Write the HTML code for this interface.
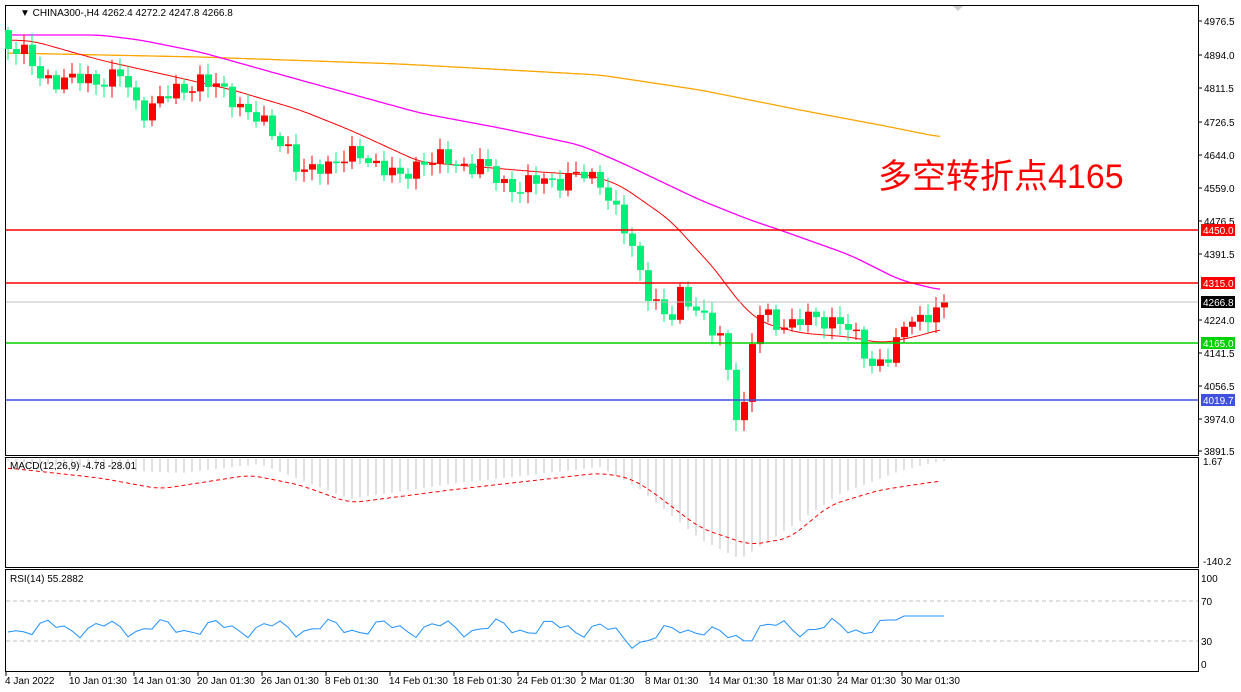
<!DOCTYPE html>
<html><head><meta charset="utf-8"><style>
html,body{margin:0;padding:0;background:#fff;width:1241px;height:692px;overflow:hidden}
svg{display:block;font-family:"Liberation Sans","Noto Sans CJK SC",sans-serif}
</style></head><body>
<svg id="s" width="1241" height="692" xmlns="http://www.w3.org/2000/svg"></svg>
<script>
const s=document.getElementById('s');let h='';
function interp(pts,x){if(x<=pts[0][0])return pts[0][1];for(let i=1;i<pts.length;i++){if(x<=pts[i][0]){const a=pts[i-1],b=pts[i];return a[1]+(b[1]-a[1])*(x-a[0])/(b[0]-a[0]);}}return pts[pts.length-1][1];}
function sm(pts,x){let t=0;for(let d=-12;d<=12;d+=2)t+=interp(pts,x+d);return t/13;}
function poly(pts,col,w,dash,smooth){let p=[];for(let x=pts[0][0];x<=pts[pts.length-1][0];x+=2)p.push(x+','+(smooth?sm(pts,x):interp(pts,x)).toFixed(1));return `<polyline points="${p.join(' ')}" fill="none" stroke="${col}" stroke-width="${w}" ${dash?'stroke-dasharray="'+dash+'"':''}/>`;}
h+=`<rect x="5.5" y="5.5" width="1193" height="450" fill="none" stroke="#000"/>`;
h+=`<rect x="5.5" y="457.5" width="1193" height="110" fill="none" stroke="#000"/>`;
h+=`<rect x="5.5" y="569.5" width="1193" height="102" fill="none" stroke="#000"/>`;
h+=poly([[8,53],[200,57],[400,64],[600,75],[700,90],[800,110],[880,125],[940,137]],'#ffa500',1.3,0,1);
h+=poly([[8,35],[100,35],[140,40],[200,52],[300,80],[420,113],[500,128],[580,145],[620,162],[700,200],[750,220],[780,230],[850,255],[900,280],[940,290]],'#ff00ff',1.3,0,1);
h+=poly([[8,40],[33,41],[100,60],[233,90],[300,110],[350,130],[420,162],[480,167],[540,172],[590,175],[620,185],[670,220],[720,275],[735,298],[760,322],[800,333],[850,337],[880,343],[900,340],[930,333],[940,329]],'#f00',1,0,1);
const cp=[[8,45],[20,48],[40,78],[70,80],[100,80],[120,75],[140,112],[160,100],[180,90],[200,80],[230,95],[250,115],[270,130],[290,150],[300,178],[320,165],[340,160],[360,155],[380,165],[400,180],[420,160],[440,160],[460,165],[480,165],[500,182],[520,188],[540,180],[560,180],[580,175],[600,180],[615,210],[630,245],[645,285],[660,310],[670,325],[680,295],[690,300],[700,310],[710,330],[720,340],[730,380],[738,420],[744,405],[750,350],[760,315],[770,320],[780,325],[800,320],[820,320],[840,320],[860,345],[870,365],[880,360],[890,355],[900,340],[910,315],[920,318],[930,315],[940,302]];
let prev=40;
for(let i=0;i<118;i++){const x=8+i*8;let c=interp(cp,x)+Math.sin(i*2.3)*7+Math.cos(i*1.1)*4;if(i==117)c=302;
 let o=prev;if(i==0)o=30;const top=Math.min(o,c),bot=Math.max(o,c);
 const wt=top-3-Math.abs(Math.sin(i*3.7))*8, wb=bot+3+Math.abs(Math.cos(i*2.9))*8;
 const col=c<o?'#ff0000':'#00f07a';
 h+=`<line x1="${x}" y1="${wt.toFixed(1)}" x2="${x}" y2="${(x==670?400:wb).toFixed(1)}" stroke="${col}"/>`;
 h+=`<rect x="${x-3}" y="${top.toFixed(1)}" width="7" height="${Math.max(1.5,bot-top).toFixed(1)}" fill="${col}"/>`;
 prev=c;}
const hl=[[230,'#f00','4450.0',1.5],[283,'#f00','4315.0',1.5],[302,'#c0c0c0','4266.8',1],[343,'#00d000','4165.0',1.5],[400,'#4050e0','4019.7',1.5]];
const ticks=[[21,'4976.5'],[55,'4894.0'],[88,'4811.5'],[122,'4726.5'],[155,'4644.0'],[188,'4559.0'],[221,'4476.5'],[254,'4391.5'],[320,'4224.0'],[353,'4141.5'],[386,'4056.5'],[419,'3974.0'],[451,'3891.5']];
for(const [y,t] of ticks){h+=`<line x1="1198" y1="${y}" x2="1202" y2="${y}" stroke="#000"/><text x="1204" y="${y+4}" font-size="10">${t}</text>`;}
for(const [y,c,t,w] of hl){h+=`<line x1="6" y1="${y}" x2="1198" y2="${y}" stroke="${c}" stroke-width="${w}"/>`;
 h+=`<rect x="1201" y="${y-6}" width="34" height="12" fill="${c=='#c0c0c0'?'#000':c}"/><text x="1203" y="${y+4}" font-size="10" fill="#fff">${t}</text>`;}
h+=`<text x="20" y="16" font-size="10">▼ CHINA300-,H4  4262.4 4272.2 4247.8 4266.8</text>`;
h+=`<text x="878" y="188" font-size="34" fill="#f00">多空转折点4165</text>`;
h+=`<polygon points="953,6 963,6 958,11" fill="#ccc"/>`;
const hist=[[8,2],[100,10],[180,14],[260,5],[350,40],[450,25],[600,8],[640,30],[700,80],[740,100],[780,75],[840,35],[900,12],[940,2]];
for(let i=0;i<118;i++){const x=8+i*8;const v=interp(hist,x);h+=`<line x1="${x}" y1="459" x2="${x}" y2="${(459+v).toFixed(1)}" stroke="#c0c0c0"/>`;}
h+=poly([[8,468],[100,478],[160,489],[250,475],[300,485],[350,503],[450,490],[600,473],[630,478],[650,490],[700,528],[750,545],[790,538],[830,505],[880,490],[940,481]],'#f00',1,'4,3',1);
h+=`<text x="10" y="469" font-size="10">MACD(12,26,9) -4.78 -28.01</text>`;
h+=`<text x="1203" y="465" font-size="10">1.67</text><text x="1203" y="565" font-size="10">-140.2</text>`;
h+=`<line x1="6" y1="601" x2="1198" y2="601" stroke="#c0c0c0" stroke-dasharray="4,3"/><line x1="6" y1="641" x2="1198" y2="641" stroke="#c0c0c0" stroke-dasharray="4,3"/>`;
let rp=[];for(let i=0;i<118;i++){const x=8+i*8;let v=628+Math.sin(i*0.9)*6+Math.cos(i*2.1)*4;
 if(x>600&&x<680)v+=12*Math.sin((x-600)/80*Math.PI);if(x>700&&x<760)v+=10*Math.sin((x-700)/60*Math.PI);if(x>880)v=620+(x>900?-4:0);rp.push(x+','+v.toFixed(1));}
h+=`<polyline points="${rp.join(' ')}" fill="none" stroke="#1e90ff" stroke-width="1"/>`;
h+=`<text x="10" y="582" font-size="10">RSI(14) 55.2882</text>`;
for(const [y,t] of [[578,'100'],[601,'70'],[641,'30'],[664,'0']])h+=`<text x="1201" y="${y+4}" font-size="10">${t}</text>`;
const tl=['4 Jan 2022','10 Jan 01:30','14 Jan 01:30','20 Jan 01:30','26 Jan 01:30','8 Feb 01:30','14 Feb 01:30','18 Feb 01:30','24 Feb 01:30','2 Mar 01:30','8 Mar 01:30','14 Mar 01:30','18 Mar 01:30','24 Mar 01:30','30 Mar 01:30'];
tl.forEach((t,i)=>{const x=6+i*64;h+=`<line x1="${x}" y1="672" x2="${x}" y2="676" stroke="#000"/><text x="${x-1}" y="684" font-size="10">${t}</text>`;});
s.innerHTML=h;
</script>
</body></html>
